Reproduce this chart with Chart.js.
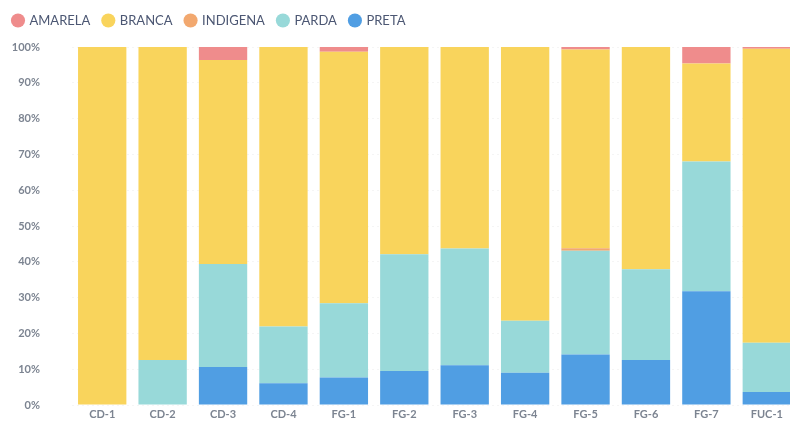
<!DOCTYPE html>
<html>
<head>
<meta charset="utf-8">
<script src="https://cdn.jsdelivr.net/npm/chart.js@4/dist/chart.umd.min.js"></script>
<style>
html,body{margin:0;padding:0;background:#fff;overflow:hidden;}
canvas{display:block;}
</style>
</head>
<body>
<canvas id="c" width="797" height="421" style="width:797px;height:421px"></canvas>
<script>
const categories = ["CD-1","CD-2","CD-3","CD-4","FG-1","FG-2","FG-3","FG-4","FG-5","FG-6","FG-7","FUC-1"];
const preta    = [0,   0,    10.6, 6.1,  7.7,  9.5,  11.1, 9.0,  14.1, 12.6, 31.8, 3.6];
const parda    = [0,   12.6, 28.8, 15.8, 20.7, 32.6, 32.6, 14.5, 29.0, 25.3, 36.2, 13.8];
const indigena = [0,   0,    0,    0,    0,    0,    0,    0,    0.7,  0,    0,    0];
const branca   = [100, 87.4, 57.0, 78.1, 70.3, 57.9, 56.3, 76.5, 55.5, 62.1, 27.4, 82.1];
const amarela  = [0,   0,    3.6,  0,    1.3,  0,    0,    0,    0.7,  0,    4.6,  0.5];
const yTicks = [0,10,20,30,40,50,60,70,80,90,100];

const colors = {PRETA:'#509EE3', PARDA:'#98D9D9', INDIGENA:'#F2A86F', BRANCA:'#F9D45C', AMARELA:'#EF8C8C'};
const series = [
  ['PRETA', preta], ['PARDA', parda], ['INDIGENA', indigena], ['BRANCA', branca], ['AMARELA', amarela]
];

const legendMargin = {
  id: 'legendMargin',
  beforeInit(chart) {
    const fit = chart.legend.fit;
    chart.legend.fit = function () { fit.bind(chart.legend)(); this.height += 10; };
  }
};

new Chart(document.getElementById('c'), {
  type: 'bar',
  plugins: [legendMargin],
  data: {
    labels: categories,
    datasets: series.map(([name, vals]) => ({
      label: name,
      data: vals,
      backgroundColor: colors[name],
      borderWidth: 0,
      categoryPercentage: 1.0,
      barPercentage: 0.8,
      pointStyle: 'circle'
    }))
  },
  options: {
    responsive: false,
    maintainAspectRatio: false,
    animation: false,
    devicePixelRatio: 1,
    layout: { padding: { left: 0, right: 0, top: 1, bottom: 0 } },
    plugins: {
      tooltip: { enabled: false },
      legend: {
        position: 'top',
        align: 'start',
        reverse: true,
        labels: {
          usePointStyle: true,
          boxWidth: 10,
          boxHeight: 10,
          padding: 13,
          color: '#4c5773',
          font: { family: 'Lato', size: 13 }
        }
      }
    },
    scales: {
      x: {
        stacked: true,
        afterFit: (s) => { s.height = 16; },
        grid: { display: false, drawTicks: false },
        border: { display: false },
        ticks: {
          color: '#7c8491',
          font: { family: 'Lato', size: 11, weight: 'bold' },
          padding: 3,
          maxRotation: 0,
          autoSkip: false
        }
      },
      y: {
        stacked: true,
        min: 0,
        max: 100,
        afterBuildTicks: (s) => { s.ticks = yTicks.map(v => ({ value: v })); },
        afterFit: (s) => { s.width = 72; s.paddingTop = 7; s.paddingBottom = 7; },
        grid: { color: 'rgba(0,0,0,0.04)', drawTicks: false },
        border: { display: false, dash: [2, 3] },
        ticks: {
          color: '#7c8491',
          font: { family: 'Lato', size: 11, weight: 'bold' },
          padding: 32,
          callback: (v) => v + '%'
        }
      }
    }
  }
});
</script>
</body>
</html>
